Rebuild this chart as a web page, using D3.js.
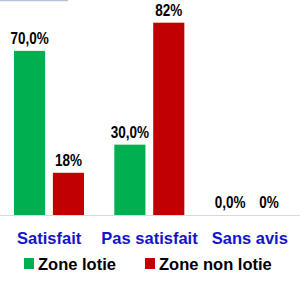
<!DOCTYPE html>
<html><head><meta charset="utf-8">
<script src="https://cdn.jsdelivr.net/npm/d3@7"></script>
<style>html,body{margin:0;padding:0;background:#fff;overflow:hidden}</style>
</head><body>
<svg id="c" width="302" height="286"></svg>
<script>
const categories = ["Satisfait", "Pas satisfait", "Sans avis"];
const seriesNames = ["Zone lotie", "Zone non lotie"];
const seriesColors = ["#00B050", "#C00000"];
const zoneLotie = [70.0, 30.0, 0.0];
const zoneNonLotie = [18, 82, 0];
const labelsLotie = ["70,0%", "30,0%", "0,0%"];
const labelsNonLotie = ["18%", "82%", "0%"];

const svg = d3.select("#c");
const x = d3.scaleBand().domain(categories).range([-1, 300]);
const xs = d3.scaleBand().domain(seriesNames).range([15, 85]).paddingInner(0.2);
const y = d3.scaleLinear().domain([0, 100]).range([215, 215 - 234.5]);

// top-left border fragment
svg.append("line").attr("x1", 0).attr("x2", 68).attr("y1", 0.5).attr("y2", 0.5)
  .attr("stroke", "#b4c4d4").attr("stroke-width", 1.5);

const rows = [];
categories.forEach((c, i) => {
  rows.push({c, s: seriesNames[0], v: zoneLotie[i], l: labelsLotie[i], col: seriesColors[0]});
  rows.push({c, s: seriesNames[1], v: zoneNonLotie[i], l: labelsNonLotie[i], col: seriesColors[1]});
});

svg.selectAll("rect.bar").data(rows).enter().append("rect").attr("class", "bar")
  .attr("x", d => x(d.c) + xs(d.s))
  .attr("width", xs.bandwidth())
  .attr("y", d => y(d.v))
  .attr("height", d => y(0) - y(d.v))
  .attr("fill", d => d.col);

// baseline
svg.append("line").attr("x1", 0).attr("x2", 300).attr("y1", y(0) + 0.5).attr("y2", y(0) + 0.5)
  .attr("stroke", "#d9d9d9").attr("stroke-width", 1);

const sx = 0.82;
svg.selectAll("text.val").data(rows).enter().append("text").attr("class", "val")
  .attr("transform", d => `translate(${x(d.c) + xs(d.s) + xs.bandwidth() / 2},${y(d.v) - 7}) scale(${sx},1)`)
  .attr("text-anchor", "middle")
  .attr("font-family", "'Liberation Sans', Arial, sans-serif")
  .attr("font-weight", "bold").attr("font-size", 16.5).attr("fill", "#000")
  .text(d => d.l);

svg.selectAll("text.cat").data(categories).enter().append("text").attr("class", "cat")
  .attr("x", d => x(d) + x.bandwidth() / 2)
  .attr("y", 244)
  .attr("text-anchor", "middle")
  .attr("font-family", "'Liberation Sans', Arial, sans-serif")
  .attr("font-weight", "bold").attr("font-size", 16.5).attr("fill", "#1414C8")
  .text(d => d);

const legX = [24, 145];
const lg = svg.selectAll("g.leg").data(seriesNames).enter().append("g").attr("class", "leg")
  .attr("transform", (d, i) => `translate(${legX[i]},258)`);
lg.append("rect").attr("width", 10).attr("height", 11).attr("fill", (d, i) => seriesColors[i]);
lg.append("text").attr("x", 14).attr("y", 12)
  .attr("font-family", "'Liberation Sans', Arial, sans-serif")
  .attr("font-weight", "bold").attr("font-size", 16.5).attr("fill", "#000")
  .text(d => d);
</script>
</body></html>
